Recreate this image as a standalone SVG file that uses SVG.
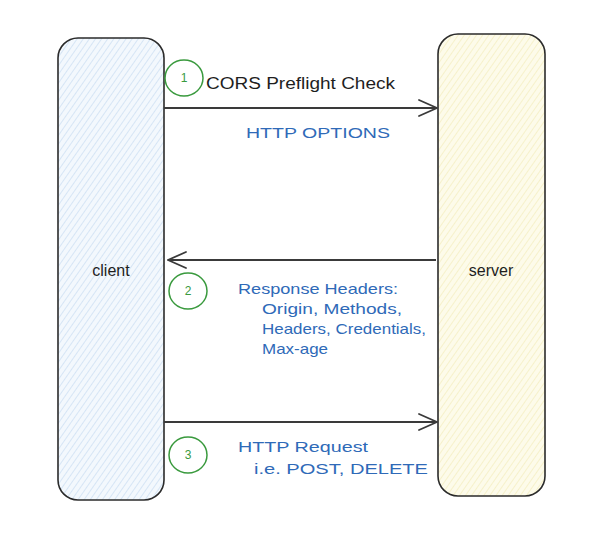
<svg xmlns="http://www.w3.org/2000/svg" width="612" height="533" viewBox="0 0 612 533">
<defs>
<pattern id="hb" patternUnits="userSpaceOnUse" width="5" height="5" patternTransform="rotate(35)">
<rect width="5" height="5" fill="#f3f8fd"/>
<line x1="0" y1="0" x2="0" y2="5" stroke="#b9d3ee" stroke-width="1"/>
</pattern>
<pattern id="hy" patternUnits="userSpaceOnUse" width="5" height="5" patternTransform="rotate(35)">
<rect width="5" height="5" fill="#fdfbea"/>
<line x1="0" y1="0" x2="0" y2="5" stroke="#f0e7ad" stroke-width="1"/>
</pattern>
<marker id="ah" viewBox="0 0 20 20" refX="19" refY="10" markerWidth="20" markerHeight="20" markerUnits="userSpaceOnUse" orient="auto">
<path d="M1,2 L19,10 L1,18" fill="none" stroke="#3a3a3a" stroke-width="1.8" stroke-linecap="round"/>
</marker>
</defs>
<style>
.box{stroke:#2b2b2b;stroke-width:1.6}
.lbl{font-family:"Liberation Sans",Arial,sans-serif;font-size:16px;fill:#1e1e1e}
.blue{font-family:"Liberation Sans",Arial,sans-serif;font-size:15px;fill:#2f6ab8}
.step{fill:none;stroke:#3a9a3e;stroke-width:1.5}
.num{font-family:"Liberation Sans",Arial,sans-serif;font-size:12px;fill:#3a9a3e;text-anchor:middle}
.conn{stroke:#3a3a3a;stroke-width:1.8;fill:none}
</style>
<g id="client">
<rect class="box" x="58" y="38" width="106" height="462" rx="20" fill="url(#hb)"/>
<text class="lbl" x="111" y="276" text-anchor="middle">client</text>
</g>
<g id="server">
<rect class="box" x="438" y="34" width="107" height="462" rx="20" fill="url(#hy)"/>
<text class="lbl" x="491" y="276" text-anchor="middle">server</text>
</g>
<g id="connectors">
<line class="conn" x1="164" y1="108" x2="437" y2="108" marker-end="url(#ah)"/>
<line class="conn" x1="436" y1="260" x2="168" y2="260" marker-end="url(#ah)"/>
<line class="conn" x1="164" y1="422" x2="437" y2="422" marker-end="url(#ah)"/>
</g>
<g id="step1">
<ellipse class="step" cx="184" cy="78" rx="19" ry="18"/>
<text class="num" x="184" y="82">1</text>
<text class="lbl" x="206" y="89" textLength="189" lengthAdjust="spacingAndGlyphs">CORS Preflight Check</text>
<text class="blue" x="246" y="138" textLength="144" lengthAdjust="spacingAndGlyphs">HTTP OPTIONS</text>
</g>
<g id="step2">
<ellipse class="step" cx="188" cy="291" rx="19" ry="18"/>
<text class="num" x="188" y="295">2</text>
<text class="blue" x="238" y="294" textLength="160" lengthAdjust="spacingAndGlyphs">Response Headers:</text>
<text class="blue" x="262" y="314" textLength="140" lengthAdjust="spacingAndGlyphs">Origin, Methods,</text>
<text class="blue" x="262" y="334" textLength="164" lengthAdjust="spacingAndGlyphs">Headers, Credentials,</text>
<text class="blue" x="262" y="354" textLength="66" lengthAdjust="spacingAndGlyphs">Max-age</text>
</g>
<g id="step3">
<ellipse class="step" cx="188" cy="455" rx="19" ry="18"/>
<text class="num" x="188" y="459">3</text>
<text class="blue" x="238" y="452" textLength="130" lengthAdjust="spacingAndGlyphs">HTTP Request</text>
<text class="blue" x="254" y="474" textLength="174" lengthAdjust="spacingAndGlyphs">i.e. POST, DELETE</text>
</g>
</svg>
